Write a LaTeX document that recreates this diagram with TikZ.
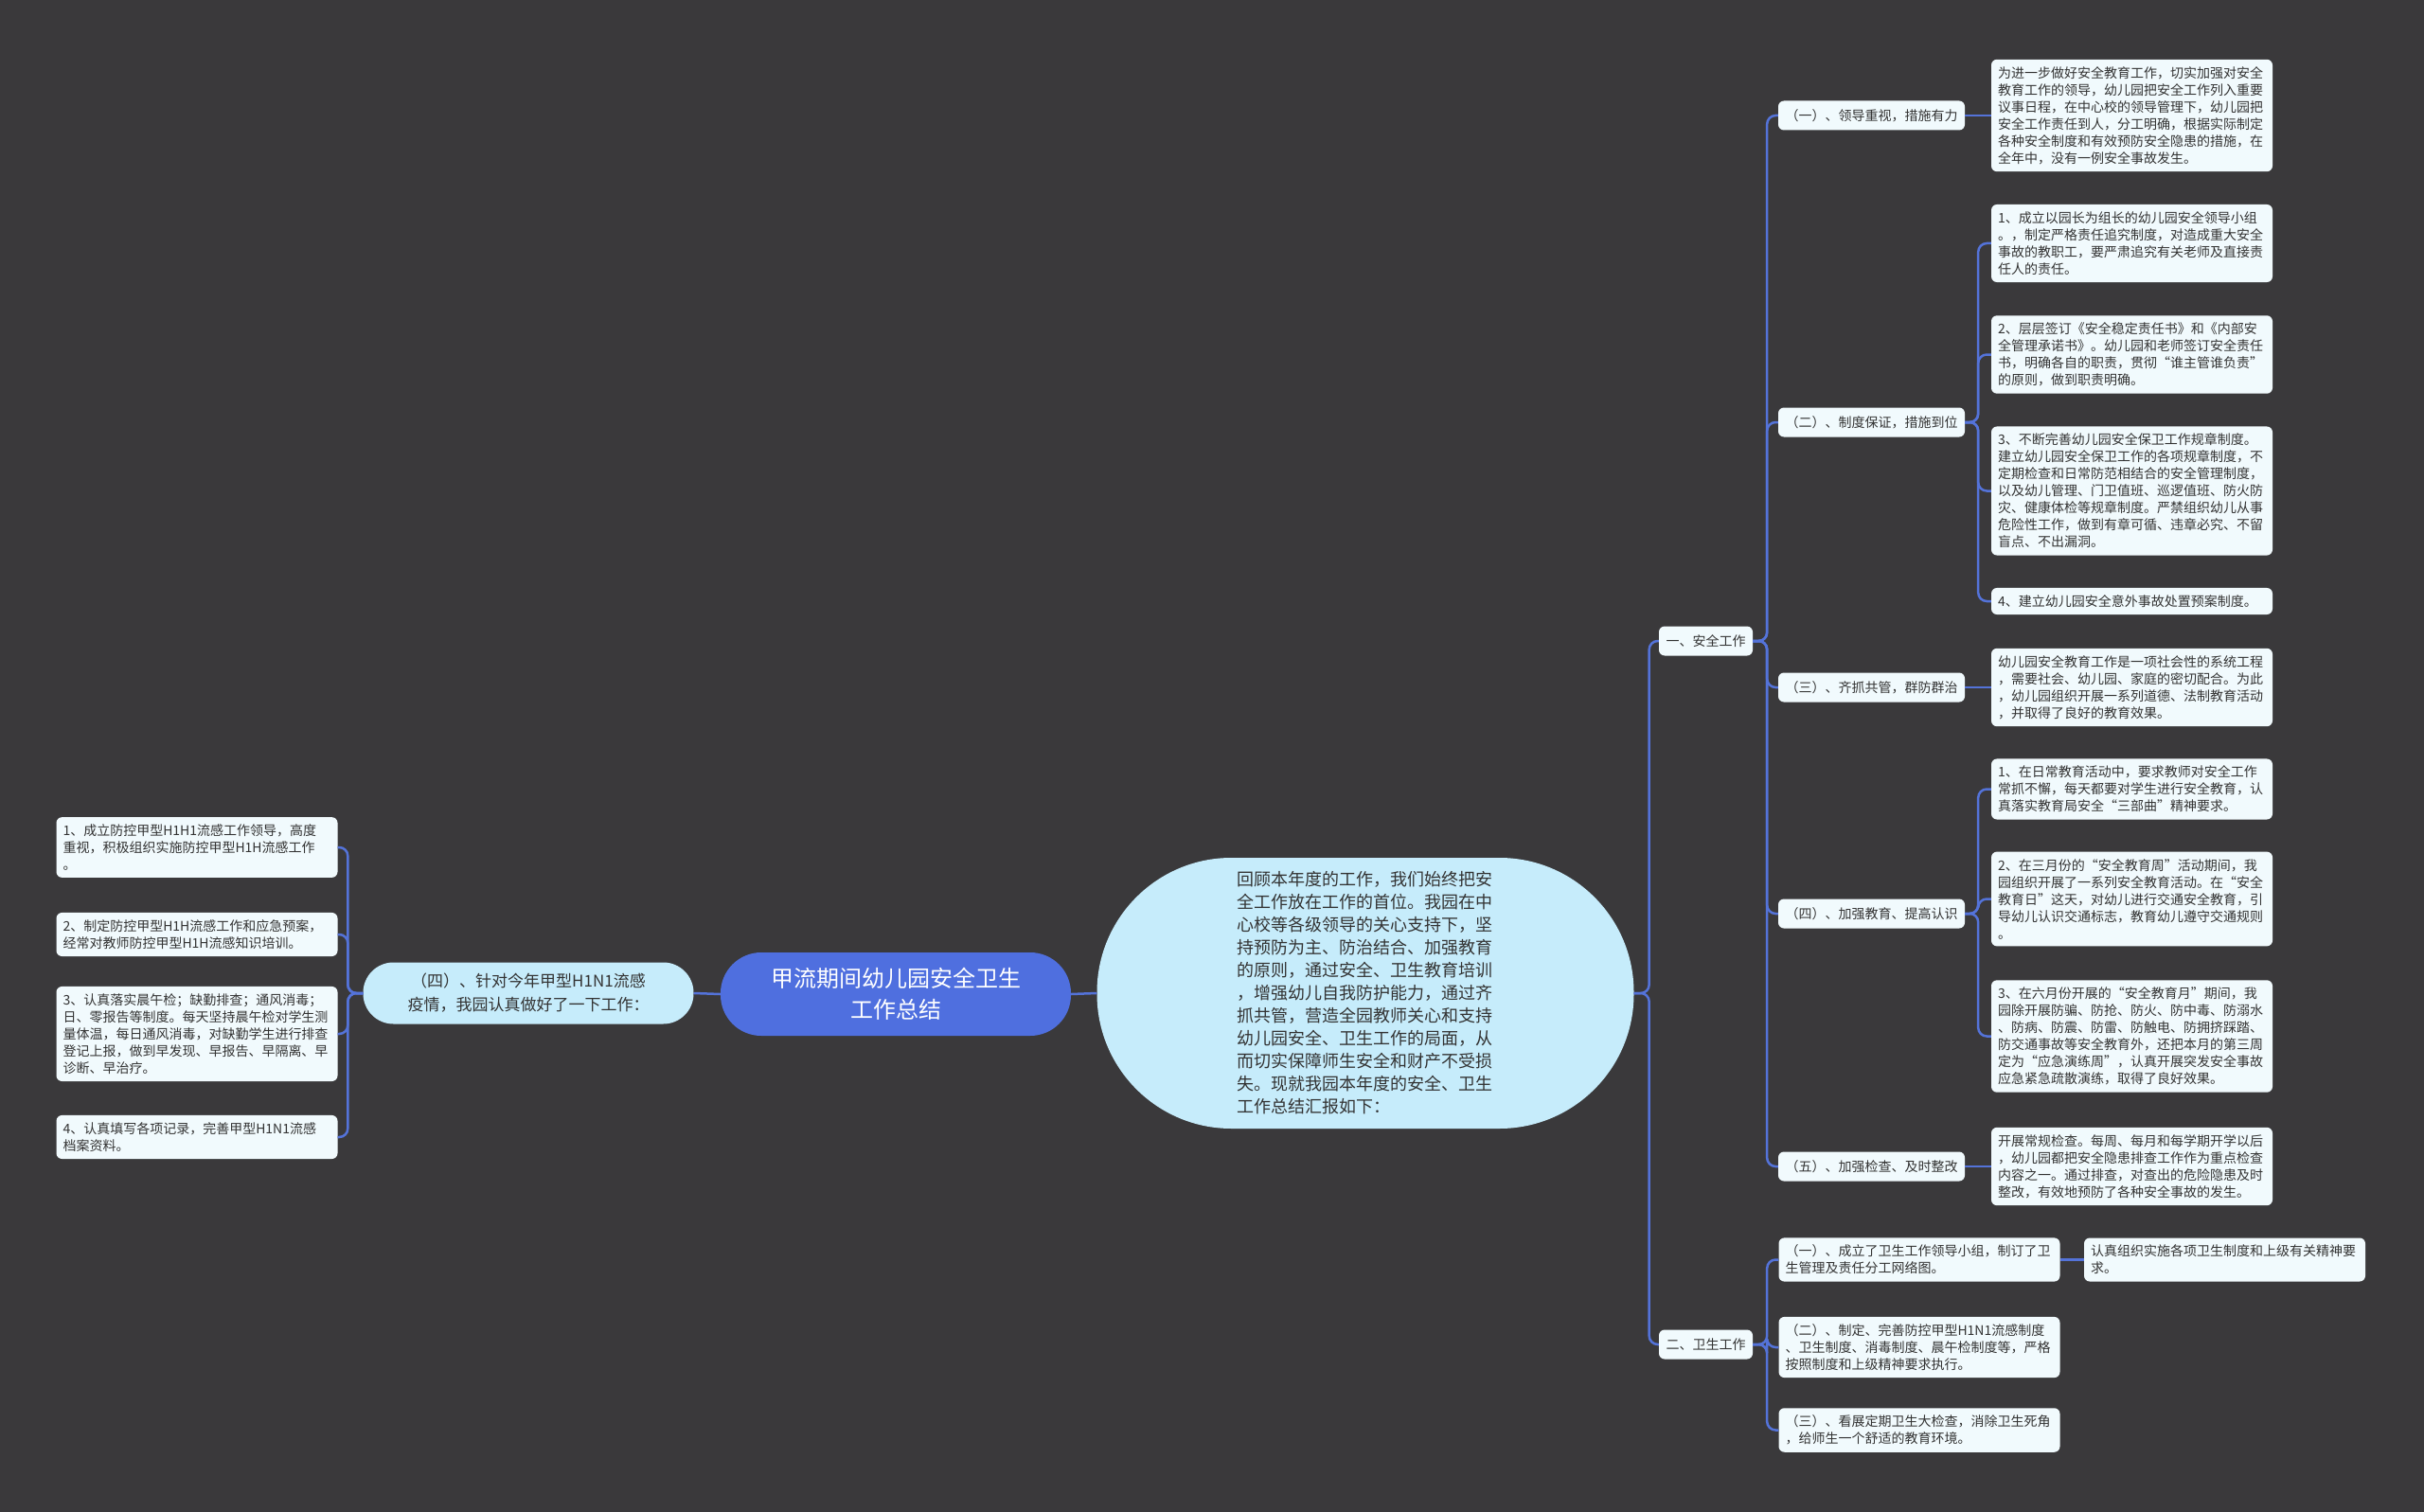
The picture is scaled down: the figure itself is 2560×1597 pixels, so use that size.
\documentclass[tikz,border=0pt]{standalone}
\usepackage{xcolor}
\usepackage{fontspec}
\newfontfamily\zhfont{Noto Sans CJK SC}
\definecolor{bgdark}{HTML}{3A393B}
\definecolor{linkblue}{HTML}{5473D9}
\definecolor{rootblue}{HTML}{4F6FDF}
\definecolor{paleblue}{HTML}{C6ECFB}
\definecolor{leaffill}{HTML}{F1FAFD}
\definecolor{leaftext}{HTML}{333333}

\tikzset{
  leaf/.style={fill=leaffill, text=leaftext, rounded corners=6pt, align=left,
    text width=283pt, inner xsep=7pt, inner ysep=7.5pt,
    font=\zhfont\fontsize{14pt}{18pt}\selectfont},
  topic/.style={fill=leaffill, text=leaftext, rounded corners=6pt,
    inner xsep=7.5pt, inner ysep=0pt, minimum height=31pt,
    font=\zhfont\fontsize{14pt}{18pt}\selectfont},
  subject/.style={fill=paleblue, text=leaftext, rounded corners=32pt, align=center,
    minimum width=349pt, minimum height=65pt, inner sep=0pt,
    font=\zhfont\fontsize{17pt}{25pt}\selectfont},
  intro/.style={fill=paleblue, text=leaftext, rounded corners=142pt, align=left,
    text width=272pt, minimum width=567pt, minimum height=286pt, inner sep=0pt,
    font=\zhfont\fontsize{18pt}{24pt}\selectfont},
  rootnode/.style={fill=rootblue, text=white, rounded corners=43pt, align=center,
    minimum width=370pt, minimum height=88pt, inner sep=0pt,
    font=\zhfont\fontsize{24pt}{33pt}\selectfont},
  link/.style={linkblue, line width=2.5pt, rounded corners=9pt},
}

\begin{document}
\begin{tikzpicture}[x=1pt,y=-1pt]
    % 背景
    \fill[bgdark] (0,0) rectangle (2560,1597);
    \useasboundingbox (0,0) rectangle (2560,1597);

    % 中心
    \node[rootnode] (root) at (946,1050) {甲流期间幼儿园安全卫生\\工作总结};
    \node[intro] (intro) at (1442,1049) {回顾本年度的工作，我们始终把安\\全工作放在工作的首位。我园在中\\心校等各级领导的关心支持下，坚\\持预防为主、防治结合、加强教育\\的原则，通过安全、卫生教育培训\\，增强幼儿自我防护能力，通过齐\\抓共管，营造全园教师关心和支持\\幼儿园安全、卫生工作的局面，从\\而切实保障师生安全和财产不受损\\失。现就我园本年度的安全、卫生\\工作总结汇报如下：};
    \node[subject] (flu) at (558,1049) {（四）、针对今年甲型H1N1流感\\疫情，我园认真做好了一下工作：};

    % 左侧
    \node[leaf] (f1) at (208,895) {1、成立防控甲型H1H1流感工作领导，高度\\重视，积极组织实施防控甲型H1H流感工作\\。};
    \node[leaf] (f2) at (208,987) {2、制定防控甲型H1H流感工作和应急预案，\\经常对教师防控甲型H1H流感知识培训。};
    \node[leaf] (f3) at (208,1092) {3、认真落实晨午检；缺勤排查；通风消毒；\\日、零报告等制度。每天坚持晨午检对学生测\\量体温，每日通风消毒，对缺勤学生进行排查\\登记上报，做到早发现、早报告、早隔离、早\\诊断、早治疗。};
    \node[leaf] (f4) at (208,1201) {4、认真填写各项记录，完善甲型H1N1流感\\档案资料。};

    % 右侧 一级
    \node[topic] (safe) at (1801.5,677) {一、安全工作};
    \node[topic] (health) at (1801.5,1420) {二、卫生工作};

    % 安全工作
    \node[topic] (s1) at (1976.5,122) {（一）、领导重视，措施有力};
    \node[topic] (s2) at (1976.5,446) {（二）、制度保证，措施到位};
    \node[topic] (s3) at (1976.5,726) {（三）、齐抓共管，群防群治};
    \node[topic] (s4) at (1976.5,965) {（四）、加强教育、提高认识};
    \node[topic] (s5) at (1976.5,1232) {（五）、加强检查、及时整改};

    \node[leaf] (s1a) at (2251.5,122) {为进一步做好安全教育工作，切实加强对安全\\教育工作的领导，幼儿园把安全工作列入重要\\议事日程，在中心校的领导管理下，幼儿园把\\安全工作责任到人，分工明确，根据实际制定\\各种安全制度和有效预防安全隐患的措施，在\\全年中，没有一例安全事故发生。};
    \node[leaf] (s2a) at (2251.5,257) {1、成立以园长为组长的幼儿园安全领导小组\\。，制定严格责任追究制度，对造成重大安全\\事故的教职工，要严肃追究有关老师及直接责\\任人的责任。};
    \node[leaf] (s2b) at (2251.5,374.5) {2、层层签订《安全稳定责任书》和《内部安\\全管理承诺书》。幼儿园和老师签订安全责任\\书，明确各自的职责，贯彻“谁主管谁负责”\\的原则，做到职责明确。};
    \node[leaf] (s2c) at (2251.5,518.5) {3、不断完善幼儿园安全保卫工作规章制度。\\建立幼儿园安全保卫工作的各项规章制度，不\\定期检查和日常防范相结合的安全管理制度，\\以及幼儿管理、门卫值班、巡逻值班、防火防\\灾、健康体检等规章制度。严禁组织幼儿从事\\危险性工作，做到有章可循、违章必究、不留\\盲点、不出漏洞。};
    \node[leaf] (s2d) at (2251.5,635) {4、建立幼儿园安全意外事故处置预案制度。};
    \node[leaf] (s3a) at (2251.5,726) {幼儿园安全教育工作是一项社会性的系统工程\\，需要社会、幼儿园、家庭的密切配合。为此\\，幼儿园组织开展一系列道德、法制教育活动\\，并取得了良好的教育效果。};
    \node[leaf] (s4a) at (2251.5,833.5) {1、在日常教育活动中，要求教师对安全工作\\常抓不懈，每天都要对学生进行安全教育，认\\真落实教育局安全“三部曲”精神要求。};
    \node[leaf] (s4b) at (2251.5,949.5) {2、在三月份的“安全教育周”活动期间，我\\园组织开展了一系列安全教育活动。在“安全\\教育日”这天，对幼儿进行交通安全教育，引\\导幼儿认识交通标志，教育幼儿遵守交通规则\\。};
    \node[leaf] (s4c) at (2251.5,1094.5) {3、在六月份开展的“安全教育月”期间，我\\园除开展防骗、防抢、防火、防中毒、防溺水\\、防病、防震、防雷、防触电、防拥挤踩踏、\\防交通事故等安全教育外，还把本月的第三周\\定为“应急演练周”，认真开展突发安全事故\\应急紧急疏散演练，取得了良好效果。};
    \node[leaf] (s5a) at (2251.5,1232) {开展常规检查。每周、每月和每学期开学以后\\，幼儿园都把安全隐患排查工作作为重点检查\\内容之一。通过排查，对查出的危险隐患及时\\整改，有效地预防了各种安全事故的发生。};

    % 卫生工作
    \node[leaf] (h1) at (2027,1330.5) {（一）、成立了卫生工作领导小组，制订了卫\\生管理及责任分工网络图。};
    \node[leaf] (h2) at (2027,1423) {（二）、制定、完善防控甲型H1N1流感制度\\、卫生制度、消毒制度、晨午检制度等，严格\\按照制度和上级精神要求执行。};
    \node[leaf] (h3) at (2027,1510.5) {（三）、看展定期卫生大检查，消除卫生死角\\，给师生一个舒适的教育环境。};
    \node[leaf] (h1a) at (2349.5,1330.5) {认真组织实施各项卫生制度和上级有关精神要\\求。};

    % 连线
    \draw[link] (root.west) -- (flu.east);
    \draw[link] (root.east) -- (intro.west);
    \draw[link] (intro.east) -- ++(16,0) |- (safe.west);
    \draw[link] (intro.east) -- ++(16,0) |- (health.west);

    \draw[link] (flu.west) -- ++(-16,0) |- (f1.east);
    \draw[link] (flu.west) -- ++(-16,0) |- (f2.east);
    \draw[link] (flu.west) -- ++(-16,0) |- (f3.east);
    \draw[link] (flu.west) -- ++(-16,0) |- (f4.east);

    \draw[link] (safe.east) -- ++(15,0) |- (s1.west);
    \draw[link] (safe.east) -- ++(15,0) |- (s2.west);
    \draw[link] (safe.east) -- ++(15,0) |- (s3.west);
    \draw[link] (safe.east) -- ++(15,0) |- (s4.west);
    \draw[link] (safe.east) -- ++(15,0) |- (s5.west);

    \draw[link] (s1.east) -- (s1a.west);
    \draw[link] (s2.east) -- ++(14,0) |- (s2a.west);
    \draw[link] (s2.east) -- ++(14,0) |- (s2b.west);
    \draw[link] (s2.east) -- ++(14,0) |- (s2c.west);
    \draw[link] (s2.east) -- ++(14,0) |- (s2d.west);
    \draw[link] (s3.east) -- (s3a.west);
    \draw[link] (s4.east) -- ++(14,0) |- (s4a.west);
    \draw[link] (s4.east) -- ++(14,0) |- (s4b.west);
    \draw[link] (s4.east) -- ++(14,0) |- (s4c.west);
    \draw[link] (s5.east) -- (s5a.west);

    \draw[link] (health.east) -- ++(15,0) |- (h1.west);
    \draw[link] (health.east) -- ++(15,0) |- (h2.west);
    \draw[link] (health.east) -- ++(15,0) |- (h3.west);
    \draw[link] (h1.east) -- (h1a.west);

\end{tikzpicture}
\end{document}
